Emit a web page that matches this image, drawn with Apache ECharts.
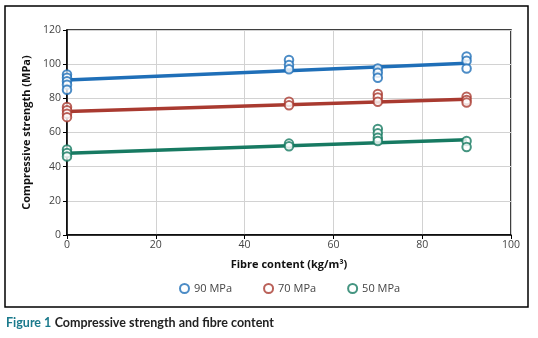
<!DOCTYPE html>
<html>
<head>
<meta charset="utf-8">
<script src="https://cdn.jsdelivr.net/npm/echarts@6/dist/echarts.min.js"></script>
<style>
    html, body { margin: 0; padding: 0; background: #fff; }
    #chart { width: 538px; height: 338px; }
</style>
</head>
<body>
<div id="chart"></div>
<script>
// ====================== data ======================
var seriesNames = ['90 MPa', '70 MPa', '50 MPa'];
var colors = ['#1f6fb8', '#a93a30', '#177a62'];

// measured points [fibre content, strength]
var points90 = [[0, 94], [0, 92], [0, 90], [0, 88], [0, 85],
    [50, 102.5], [50, 99.5], [50, 97],
    [70, 97.5], [70, 95], [70, 92],
    [90, 104.5], [90, 102], [90, 97.5]];
var points70 = [[0, 75], [0, 73], [0, 71], [0, 69],
    [50, 78], [50, 76],
    [70, 82.5], [70, 80.5], [70, 78],
    [90, 81], [90, 79], [90, 77.5]];
var points50 = [[0, 50], [0, 48], [0, 46],
    [50, 53.5], [50, 52],
    [70, 62], [70, 59.5], [70, 57], [70, 55],
    [90, 55], [90, 51.5]];

// trend line end points
var trendX = [0, 90];
var trend90 = [90.8, 100.6];
var trend70 = [72.3, 79.5];
var trend50 = [47.8, 55.8];

var xTicks = [0, 20, 40, 60, 80, 100];
var yTicks = [0, 20, 40, 60, 80, 100, 120];

function pairs(xs, ys) {
    return xs.map(function (x, i) { return [x, ys[i]]; });
}

var chart = echarts.init(document.getElementById('chart'));
var labelFont = 'Open Sans, Noto Sans, sans-serif';

function trendSeries(data, color) {
    return {
        type: 'line',
        data: data,
        showSymbol: false,
        symbol: 'none',
        silent: true,
        z: 2,
        lineStyle: { color: color, width: 3.5 }
    };
}

function pointSeries(name, data, color) {
    return {
        name: name,
        type: 'scatter',
        data: data,
        symbol: 'emptyCircle',
        symbolSize: 8.5,
        z: 3,
        itemStyle: { color: color, borderColor: color, borderWidth: 1.5 }
    };
}

var option = {
    animation: false,
    backgroundColor: '#fff',
    color: colors,
    grid: {
        left: 67,
        right: 27,
        top: 30,
        bottom: 103,
        show: true,
        borderColor: '#000',
        borderWidth: 1.5
    },
    xAxis: {
        type: 'value',
        min: xTicks[0],
        max: xTicks[xTicks.length - 1],
        interval: 20,
        name: 'Fibre content (kg/m³)',
        nameLocation: 'middle',
        nameGap: 24,
        nameTextStyle: { fontFamily: labelFont, fontWeight: 'bold', fontSize: 11, color: '#111' },
        axisLine: { lineStyle: { color: '#000', width: 1.5 } },
        axisTick: { show: true, length: 4, lineStyle: { color: '#000' } },
        axisLabel: { fontFamily: labelFont, fontSize: 10.5, color: '#444', margin: 5 },
        splitLine: { lineStyle: { color: '#d2d2d2', width: 1 } }
    },
    yAxis: {
        type: 'value',
        min: yTicks[0],
        max: yTicks[yTicks.length - 1],
        interval: 20,
        name: 'Compressive strength (MPa)',
        nameLocation: 'middle',
        nameGap: 31,
        nameRotate: 90,
        nameTextStyle: { fontFamily: labelFont, fontWeight: 'bold', fontSize: 11, color: '#111' },
        axisLine: { show: true, lineStyle: { color: '#000', width: 1.5 } },
        axisTick: { show: true, length: 4, lineStyle: { color: '#000' } },
        axisLabel: { fontFamily: labelFont, fontSize: 10.5, color: '#444', margin: 6 },
        splitLine: { lineStyle: { color: '#d2d2d2', width: 1 } }
    },
    legend: {
        data: seriesNames.map(function (n) { return { name: n, icon: 'emptyCircle' }; }),
        top: 278,
        left: 174,
        itemWidth: 9,
        itemHeight: 9,
        itemGap: 31,
        textStyle: { fontFamily: labelFont, fontSize: 11, color: '#444' }
    },
    series: [
        trendSeries(pairs(trendX, trend90), colors[0]),
        trendSeries(pairs(trendX, trend70), colors[1]),
        trendSeries(pairs(trendX, trend50), colors[2]),
        pointSeries(seriesNames[0], points90, colors[0]),
        pointSeries(seriesNames[1], points70, colors[1]),
        pointSeries(seriesNames[2], points50, colors[2])
    ],
    graphic: [
        {
            type: 'rect',
            shape: { x: 5, y: 6, width: 523, height: 301 },
            style: { fill: 'none', stroke: '#000', lineWidth: 1.5 },
            silent: true
        },
        {
            type: 'text',
            left: 6,
            top: 316,
            style: {
                rich: {
                    a: { fontFamily: 'Lato, sans-serif', fontWeight: 'bold', fontSize: 12.5, fill: '#1b7a8c' },
                    b: { fontFamily: 'Lato, sans-serif', fontWeight: 'bold', fontSize: 12.5, fill: '#222' }
                },
                text: '{a|Figure 1} {b|Compressive strength and fibre content}'
            }
        }
    ]
};
chart.setOption(option);
</script>
</body>
</html>
